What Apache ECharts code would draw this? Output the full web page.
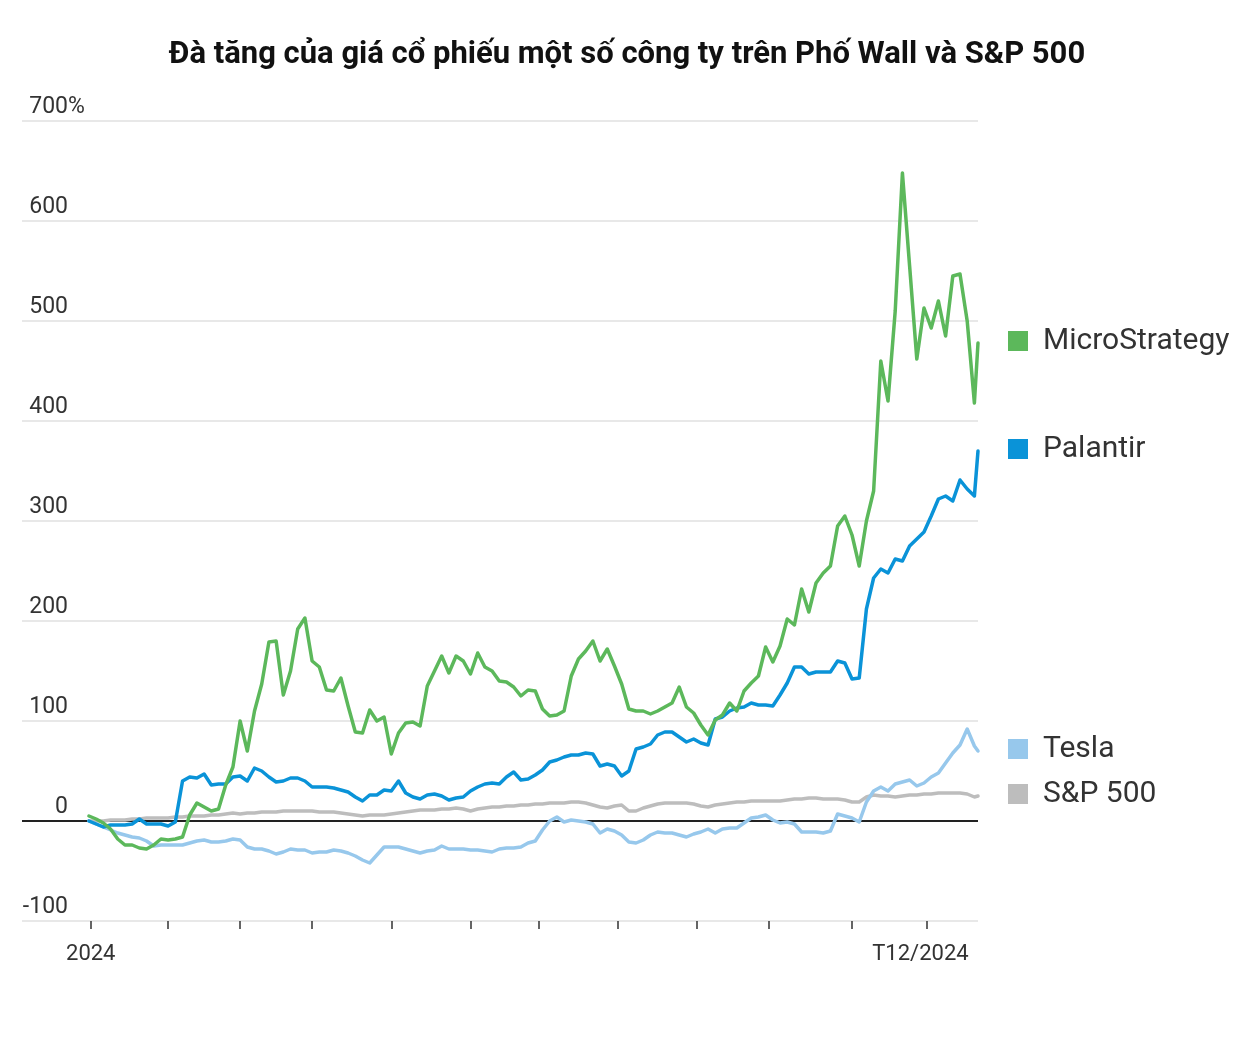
<!DOCTYPE html>
<html>
<head>
<meta charset="utf-8">
<script src="https://cdn.jsdelivr.net/npm/echarts@6/dist/echarts.min.js"></script>
<style>
html,body{margin:0;padding:0;background:#fff;}
#chart{width:1254px;height:1038px;}
</style>
</head>
<body>
<div id="chart"></div>
<script>
// trading-day index (0 = last close of 2023), sampled every two sessions
const days = [0,2,4,6,8,10,12,14,16,18,20,22,24,26,28,30,32,34,36,38,40,42,44,46,48,50,52,54,56,58,60,62,64,66,68,70,72,74,76,78,80,82,84,86,88,90,92,94,96,98,100,102,104,106,108,110,112,114,116,118,120,122,124,126,128,130,132,134,136,138,140,142,144,146,148,150,152,154,156,158,160,162,164,166,168,170,172,174,176,178,180,182,184,186,188,190,192,194,196,198,200,202,204,206,208,210,212,214,216,218,220,222,224,226,228,230,232,234,236,238,240,242,244,246,247];

// month-start sessions for ticks, and the two labelled ones
const monthStarts = [0.5,22,42,62,84,106,125,147,169,189,212,232.8];
const labelDays = [0.5, 231];
const labelTexts = ['2024', 'T12/2024'];

const yTicks = [-100,0,100,200,300,400,500,600,700];

const mstr = [5,2,-2,-8,-18,-24,-24,-27,-28,-24,
  -18,-19,-18,-16,6,18,14,10,12,36,
  54,100,70,110,137,179,180,126,150,192,
  203,160,154,131,130,143,115,89,88,111,
  100,104,67,88,98,99,95,135,150,165,
  148,165,160,147,168,154,150,140,139,134,
  125,131,130,112,105,106,110,145,162,170,
  180,160,172,155,137,112,110,110,107,110,
  114,118,134,114,108,96,86,101,106,118,
  110,130,138,145,174,159,175,202,196,232,
  209,238,248,255,295,305,286,255,300,330,
  460,420,510,648,555,462,513,493,520,485,
  545,547,500,418,478];

const palantir = [0,-3,-6,-4,-4,-4,-3,2,-3,-3,
  -3,-5,-1,40,44,43,47,36,37,37,
  44,45,40,53,50,44,39,40,43,43,
  40,34,34,34,33,31,29,24,20,26,
  26,31,30,40,28,24,22,26,27,25,
  21,23,24,30,34,37,38,37,44,49,
  41,42,46,51,59,61,64,66,66,68,
  67,55,57,55,45,50,72,74,77,86,
  89,89,84,79,82,78,76,102,104,110,
  113,114,118,116,116,115,126,138,154,154,
  147,149,149,149,160,158,142,143,212,243,
  252,248,262,260,275,282,289,305,322,325,
  320,341,332,325,370];

const tesla = [0,-3,-6,-9,-12,-14,-16,-17,-20,-25,
  -24,-24,-24,-24,-22,-20,-19,-21,-21,-20,
  -18,-19,-26,-28,-28,-30,-33,-31,-28,-29,
  -29,-32,-31,-31,-29,-30,-32,-35,-39,-42,
  -34,-26,-26,-26,-28,-30,-32,-30,-29,-25,
  -28,-28,-28,-29,-29,-30,-31,-28,-27,-27,
  -26,-22,-20,-9,0,4,-1,1,0,-1,
  -3,-12,-8,-10,-14,-21,-22,-19,-14,-11,
  -12,-12,-14,-16,-13,-11,-8,-12,-8,-7,
  -7,-2,3,4,6,1,-2,-1,-3,-11,
  -11,-11,-12,-10,7,5,3,-1,19,30,
  34,30,37,39,41,35,38,44,48,58,
  68,76,92,75,70];

const sp500 = [0,0,0,1,1,1,2,2,3,3,
  3,3,4,4,5,5,5,6,6,7,
  8,7,8,8,9,9,9,10,10,10,
  10,10,9,9,9,8,7,6,5,6,
  6,6,7,8,9,10,11,11,11,12,
  12,13,12,10,12,13,14,14,15,15,
  16,16,17,17,18,18,18,19,19,18,
  16,14,13,15,16,10,10,13,15,17,
  18,18,18,18,17,15,14,16,17,18,
  19,19,20,20,20,20,20,21,22,22,
  23,23,22,22,22,21,19,19,24,26,
  25,25,24,25,26,26,27,27,28,28,
  28,28,27,24,25];

const names = ['S&P 500', 'Tesla', 'Palantir', 'MicroStrategy'];
const colors = ['#bdbdbd', '#97c8ec', '#0a93d8', '#5cb85b'];
const seriesValues = [sp500, tesla, palantir, mstr];

const FONT = 'Roboto, "Noto Sans", sans-serif';

function pairs(vals) { return days.map((d, i) => [d, vals[i]]); }

const series = seriesValues.map((vals, i) => {
  const s = {
    name: names[i],
    type: 'line',
    data: pairs(vals),
    showSymbol: false,
    symbol: 'none',
    lineStyle: { color: colors[i], width: 3.5, join: 'round', cap: 'round' },
    itemStyle: { color: colors[i] },
    z: 3 + i,
    endLabel: {
      show: true,
      distance: 30,
      offset: [0, -2],
      formatter: '{sq|}{t|' + names[i] + '}',
      rich: {
        sq: { width: 20, height: 20, backgroundColor: colors[i] },
        t: { fontSize: 30, fontFamily: FONT, color: '#333', padding: [0, 0, 0, 15] }
      }
    }
  };
  if (i === 0) {
    s.markLine = {
      silent: true,
      symbol: 'none',
      label: { show: false },
      lineStyle: { color: '#222', width: 1.8, type: 'solid' },
      data: [{ yAxis: 0 }],
      z: 2
    };
  }
  return s;
});

const yBase = {
  type: 'value',
  min: -100,
  max: 700,
  interval: 100,
  position: 'left',
  axisLine: { show: false },
  axisTick: { show: false }
};

const chart = echarts.init(document.getElementById('chart'), null, { renderer: 'canvas' });
chart.setOption({
  animation: false,
  backgroundColor: '#fff',
  title: {
    text: 'Đà tăng của giá cổ phiếu một số công ty trên Phố Wall và S&P 500',
    left: 'center',
    top: 35,
    textStyle: { fontSize: 31, fontWeight: 'bold', color: '#111', fontFamily: FONT }
  },
  grid: { left: 22, right: 276, top: 121, bottom: 117 },
  xAxis: {
    type: 'value',
    min: -18.6,
    max: 247,
    axisLine: { show: false, onZero: false },
    splitLine: { show: false },
    axisTick: {
      show: true,
      customValues: monthStarts,
      length: 8,
      lineStyle: { color: '#333', width: 1.5 }
    },
    axisLabel: {
      customValues: labelDays,
      formatter: v => labelTexts[labelDays.indexOf(v)] || '',
      fontSize: 22,
      fontFamily: FONT,
      color: '#333',
      margin: 22
    }
  },
  yAxis: [
    Object.assign({}, yBase, {
      splitLine: { lineStyle: { color: '#e0e0e0', width: 1.5 } },
      axisLabel: {
        inside: true,
        align: 'right',
        verticalAlign: 'bottom',
        margin: 46,
        fontSize: 23,
        fontFamily: FONT,
        color: '#333',
        lineHeight: 26,
        padding: [0, 0, 1, 0],
        formatter: v => (yTicks.indexOf(v) >= 0 ? String(v) : '')
      }
    }),
    Object.assign({}, yBase, {
      splitLine: { show: false },
      axisLabel: {
        inside: true,
        align: 'left',
        verticalAlign: 'bottom',
        margin: 46,
        fontSize: 23,
        fontFamily: FONT,
        color: '#333',
        lineHeight: 26,
        padding: [0, 0, 1, 0],
        formatter: v => (v === 700 ? '%' : '')
      }
    })
  ],
  series: series
});
</script>
</body>
</html>
